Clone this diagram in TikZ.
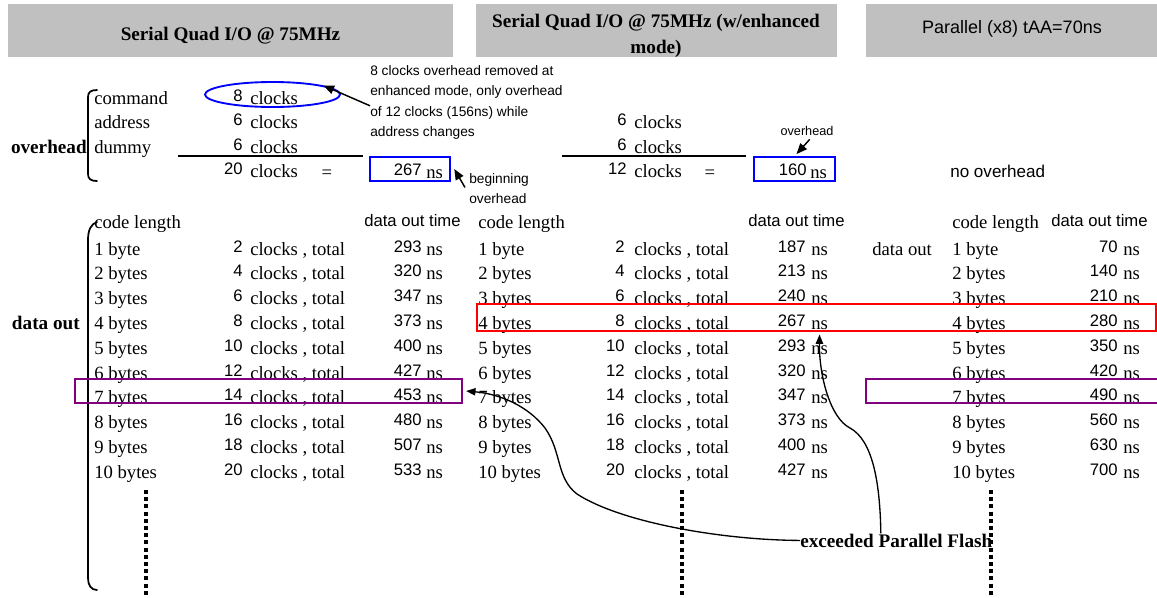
\documentclass[tikz,border=0pt]{standalone}
\usepackage{fontspec}
\setmainfont{Liberation Serif}
\newfontfamily\arial{Liberation Sans}
\usetikzlibrary{arrows.meta,calc,shapes.geometric}
\definecolor{hdrgray}{RGB}{192,192,192}
\definecolor{boxblue}{RGB}{0,0,255}
\definecolor{hlred}{RGB}{255,0,0}
\definecolor{hlpurple}{RGB}{128,0,128}
\begin{document}
\begin{tikzpicture}[x=0.75pt,y=-0.75pt,
  serif/.style={inner sep=0pt, font=\fontsize{14}{16}\selectfont},
  bserif/.style={inner sep=0pt, font=\bfseries\fontsize{14.4}{17}\selectfont},
  sans/.style={inner sep=0pt, font=\arial\fontsize{12.5}{14}\selectfont},
  note/.style={inner sep=0pt, font=\arial\fontsize{10.3}{12}\selectfont},
  hdr/.style={fill=hdrgray, draw=none, inner sep=0pt, minimum height=39.75pt},
  valbox/.style={draw=boxblue, line width=1.4pt, inner sep=0pt, minimum height=18pt},
  hlbox/.style={line width=2.2pt, inner sep=0pt},
  arr/.style={line width=1.1pt, -{Triangle[length=8pt,width=6.5pt]}},
  curvearr/.style={line width=1pt, -{Triangle[length=7pt,width=5.5pt]}},
  dotcol/.style={line width=3pt, dash pattern=on 3pt off 2.4pt},
  sumrule/.style={line width=1.1pt},
  brace/.style={line width=1.3pt, line cap=round},
]
\useasboundingbox (0,0) rectangle (1157,597);
\clip (0,0) rectangle (1157,597);

% column headers
\node[hdr, minimum width=333.75pt] (hbox1) at (230.5,30.5) {};
\node[hdr, minimum width=270.75pt] (hbox2) at (656.5,30.5) {};
\node[hdr, minimum width=218.25pt] (hbox3) at (1011.5,30.5) {};
\node[bserif, anchor=base] (h1) at (230.5,40) {Serial Quad I/O @ 75MHz};
\node[bserif, anchor=base] (h2a) at (656,27) {Serial Quad I/O @ 75MHz (w/enhanced};
\node[bserif, anchor=base] (h2b) at (656,53) {mode)};
\node[inner sep=0pt, font=\arial\fontsize{13.5}{15}\selectfont, anchor=base] (h3) at (1012,33) {Parallel (x8) tAA=70ns};

% overhead block, plain read
\draw[brace] (97,90) .. controls (91,90) and (88,92) .. (88,97) -- (88,174) .. controls (88,179) and (91,181) .. (97,181);
\node[bserif, anchor=base east] (ovh) at (87,153) {overhead};
\node[serif, anchor=base west] (cmd) at (94,104) {command};
\node[serif, anchor=base west] (adr) at (94,128.5) {address};
\node[serif, anchor=base west] (dum) at (94,153) {dummy};
\node[sans, anchor=base east] (n8) at (243,101) {8};
\node[sans, anchor=base east] (n6a) at (243,125.5) {6};
\node[sans, anchor=base east] (n6b) at (243,150) {6};
\node[sans, anchor=base east] (n20) at (243,174.5) {20};
\node[serif, anchor=base west] (k8) at (250,104) {clocks};
\node[serif, anchor=base west] (k6a) at (250,128.5) {clocks};
\node[serif, anchor=base west] (k6b) at (250,153) {clocks};
\node[serif, anchor=base west] (k20) at (250,177.5) {clocks};
\draw[sumrule] (178,156) -- (363,156);
\node[serif, anchor=base] (eq1) at (327,178) {=};
\node[draw=boxblue, line width=1.4pt, ellipse, inner sep=0pt, minimum width=101.25pt, minimum height=18.75pt] (ell) at (272.5,94.5) {};
\node[valbox, minimum width=60pt] (b267) at (410,169) {};
\node[sans, anchor=base east] (v267) at (422,175) {267};
\node[serif, anchor=base west] (u267) at (426,178) {ns};

% remark on the enhanced mode
\node[note, anchor=base west] (note1) at (370,75) {8 clocks overhead removed at};
\node[note, anchor=base west] (note2) at (370,95.5) {enhanced mode, only overhead};
\node[note, anchor=base west] (note3) at (370,116) {of 12 clocks (156ns) while};
\node[note, anchor=base west] (note4) at (370,136.5) {address changes};
\draw[arr] (note3.north west) -- (ell.10);

\node[note, anchor=base west] (beg1) at (469,183) {beginning};
\node[note, anchor=base west] (beg2) at (469,203) {overhead};
\draw[arr] ([xshift=-3pt,yshift=-1pt]beg1.south west) -- ([xshift=2.5pt]b267.east);

% overhead block, enhanced mode
\node[sans, anchor=base east] (m6a) at (627,125.5) {6};
\node[sans, anchor=base east] (m6b) at (627,150) {6};
\node[sans, anchor=base east] (m12) at (627,174.5) {12};
\node[serif, anchor=base west] (mk6a) at (634,128.5) {clocks};
\node[serif, anchor=base west] (mk6b) at (634,153) {clocks};
\node[serif, anchor=base west] (mk12) at (634,177.5) {clocks};
\draw[sumrule] (562,156) -- (746,156);
\node[serif, anchor=base] (eq2) at (710,178) {=};
\node[valbox, minimum width=60.75pt] (b160) at (794.5,169) {};
\node[sans, anchor=base east] (v160) at (807,175) {160};
\node[serif, anchor=base west] (u160) at (810,178) {ns};
\node[inner sep=0pt, font=\arial\fontsize{9.5}{11}\selectfont, anchor=base] (ovl) at (807,135) {overhead};
\draw[arr] ([xshift=2pt,yshift=-3pt]ovl.south) -- ([xshift=1.5pt,yshift=1.5pt]b160.north);

% parallel part
\node[inner sep=0pt, font=\arial\fontsize{12.8}{14}\selectfont, anchor=base west] (noov) at (950,177) {no overhead};

% data out block
\draw[brace] (97,222) .. controls (91,224) and (88,230) .. (88,240) -- (88,578) .. controls (88,585) and (91,590) .. (97,590);
\node[bserif, anchor=base east] (dout) at (80,329) {data out};
\node[serif, anchor=base west] (Lhead) at (94,228) {code length};
\node[serif, anchor=base west] (Mhead) at (478,228) {code length};
\node[serif, anchor=base west] (Rhead) at (952,228) {code length};
\node[sans, anchor=base west] (Ltime) at (364,226) {data out time};
\node[sans, anchor=base west] (Mtime) at (748,226) {data out time};
\node[sans, anchor=base west] (Rtime) at (1051,226) {data out time};
\node[serif, anchor=base west] (Rdo) at (872,255) {data out};

\foreach \k/\a/\b/\c in {1/293/187/70, 2/320/213/140, 3/347/240/210, 4/373/267/280, 5/400/293/350,
                          6/427/320/420, 7/453/347/490, 8/480/373/560, 9/507/400/630, 10/533/427/700} {
  \pgfmathsetmacro\yb{255+(\k-1)*24.8}
  \pgfmathtruncatemacro\clk{2*\k}
  % plain quad I/O
  \node[serif, anchor=base west] (Lb\k) at (94,\yb) {\k\ \ifnum\k=1 byte\else bytes\fi};
  \node[sans, anchor=base east] (Lc\k) at (243,\yb-3) {\clk};
  \node[serif, anchor=base west] (Lk\k) at (250,\yb) {clocks , total};
  \node[sans, anchor=base east] (Lt\k) at (422,\yb-3) {\a};
  \node[serif, anchor=base west] (Lu\k) at (426,\yb) {ns};
  % enhanced mode
  \node[serif, anchor=base west] (Mb\k) at (478,\yb) {\k\ \ifnum\k=1 byte\else bytes\fi};
  \node[sans, anchor=base east] (Mc\k) at (625,\yb-3) {\clk};
  \node[serif, anchor=base west] (Mk\k) at (634,\yb) {clocks , total};
  \node[sans, anchor=base east] (Mt\k) at (806,\yb-3) {\b};
  \node[serif, anchor=base west] (Mu\k) at (811,\yb) {ns};
  % parallel x8
  \node[serif, anchor=base west] (Rb\k) at (952,\yb) {\k\ \ifnum\k=1 byte\else bytes\fi};
  \node[sans, anchor=base east] (Rt\k) at (1118,\yb-3) {\c};
  \node[serif, anchor=base west] (Ru\k) at (1123,\yb) {ns};
}

% highlighted rows
\node[hlbox, draw=hlred, minimum width=509.25pt, minimum height=20.25pt] (rbox) at (816.5,317.5) {};
\node[hlbox, draw=hlpurple, minimum width=290.25pt, minimum height=18pt] (pbox1) at (268.5,391) {};
\node[hlbox, draw=hlpurple, minimum width=235.5pt, minimum height=18pt] (pbox2) at (1023,391) {};

% continuation marks
\draw[dotcol] (146,490) -- (146,600);
\draw[dotcol] (682,490) -- (682,600);
\draw[dotcol] (991,490) -- (991,600);

% crossover callout
\node[bserif, anchor=base west] (excd) at (800,547) {exceeded Parallel Flash};
\draw[curvearr] (excd.west) .. controls (720,540) and (620,522) .. (577,494)
  .. controls (556,478) and (562,452) .. (545,428)
  .. controls (528,406) and (500,394) .. ([xshift=2pt]pbox1.east);
\draw[curvearr] ($(excd.north west)!0.42!(excd.north east)$) .. controls (880,480) and (872,440) .. (850,428)
  .. controls (830,418) and (819,375) .. ([yshift=-1.5pt]rbox.south -| Mu4);
\end{tikzpicture}
\end{document}
